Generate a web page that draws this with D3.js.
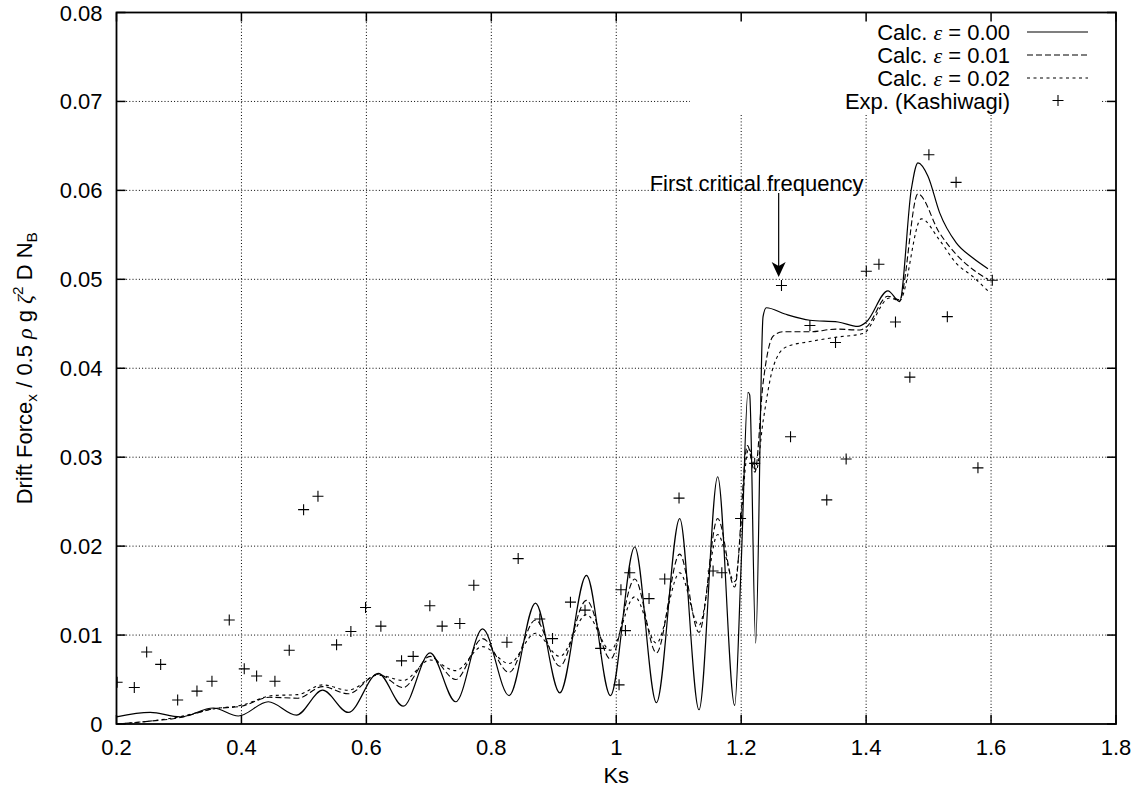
<!DOCTYPE html>
<html>
<head>
<meta charset="utf-8">
<script src="https://cdn.jsdelivr.net/npm/d3@7"></script>
<style>
  body { margin: 0; background: #fff; }
  svg { display: block; }
  text { font-family: "Liberation Sans", Arial, Helvetica, sans-serif; fill: #000; }
</style>
</head>
<body>
<script>
// ---------------- data ----------------
const xTicks = [0.2, 0.4, 0.6, 0.8, 1.0, 1.2, 1.4, 1.6, 1.8];
const yTicks = [0, 0.01, 0.02, 0.03, 0.04, 0.05, 0.06, 0.07, 0.08];
const xTickLabels = ["0.2", "0.4", "0.6", "0.8", "1", "1.2", "1.4", "1.6", "1.8"];
const yTickLabels = ["0", "0.01", "0.02", "0.03", "0.04", "0.05", "0.06", "0.07", "0.08"];

const seriesNames = ["Calc. \u03B5 = 0.00", "Calc. \u03B5 = 0.01", "Calc. \u03B5 = 0.02", "Exp. (Kashiwagi)"];

// Calc. eps = 0.00 (solid)
const ksCalc0 = [0.2, 0.254, 0.302, 0.355, 0.395, 0.443, 0.488, 0.530, 0.571, 0.619, 0.659, 0.702, 0.743, 0.786,
  0.8285, 0.8707, 0.9096, 0.9523, 0.9907, 1.0296, 1.0643, 1.1016, 1.1325, 1.1624, 1.1896, 1.2, 1.2109, 1.2136,
  1.2232, 1.235, 1.2403, 1.27, 1.31, 1.355, 1.387, 1.4003, 1.4349, 1.4536, 1.4723, 1.4829, 1.499, 1.5176, 1.5443, 1.571, 1.595];
const fCalc0 = [0.0008, 0.0013, 0.0008, 0.0018, 0.0009, 0.0025, 0.0010, 0.0038, 0.0013, 0.0057, 0.0020, 0.0080, 0.0025, 0.0107,
  0.0032, 0.0136, 0.0035, 0.0167, 0.0032, 0.0199, 0.0024, 0.0231, 0.0016, 0.0278, 0.0021, 0.0180, 0.0373, 0.0370,
  0.0091, 0.0458, 0.0468, 0.0461, 0.0454, 0.0452, 0.0447, 0.0452, 0.0487, 0.0475, 0.0601, 0.0631, 0.0616, 0.0575, 0.0541, 0.0524, 0.0512];

// Calc. eps = 0.01 (dashed)
const ksCalc1 = [0.2, 0.25, 0.3, 0.355, 0.40, 0.445, 0.49, 0.53, 0.571, 0.619, 0.659, 0.702, 0.743, 0.786,
  0.8285, 0.8707, 0.9096, 0.9523, 0.9907, 1.0296, 1.0643, 1.1016, 1.1325, 1.1624, 1.1896, 1.21, 1.222, 1.235,
  1.251, 1.267, 1.31, 1.352, 1.39, 1.40, 1.4349, 1.4536, 1.4829, 1.5176, 1.5443, 1.571, 1.595];
const fCalc1 = [0.0000, 0.0003, 0.0007, 0.0017, 0.0020, 0.0030, 0.0029, 0.0042, 0.0034, 0.0056, 0.0041, 0.0076, 0.0050, 0.0096,
  0.0058, 0.0117, 0.0065, 0.0139, 0.0073, 0.0163, 0.0080, 0.0191, 0.0103, 0.0231, 0.0154, 0.0313, 0.0283, 0.0383,
  0.0436, 0.0441, 0.0441, 0.0444, 0.0443, 0.0446, 0.0481, 0.0477, 0.0596, 0.0552, 0.0528, 0.0511, 0.0500];

// Calc. eps = 0.02 (short dashed)
const ksCalc2 = [0.2, 0.25, 0.3, 0.355, 0.40, 0.45, 0.49, 0.53, 0.571, 0.619, 0.659, 0.702, 0.743, 0.786,
  0.8285, 0.8707, 0.9096, 0.9523, 0.9907, 1.0296, 1.0643, 1.1016, 1.1325, 1.1624, 1.1896, 1.212, 1.224, 1.235,
  1.2515, 1.272, 1.31, 1.353, 1.395, 1.4376, 1.4536, 1.4883, 1.5176, 1.5443, 1.571, 1.595];
const fCalc2 = [0.0000, 0.0003, 0.0008, 0.0017, 0.0021, 0.0032, 0.0033, 0.0044, 0.0038, 0.0055, 0.0049, 0.0072, 0.0060, 0.0087,
  0.0068, 0.0102, 0.0076, 0.0123, 0.0083, 0.0143, 0.0091, 0.0170, 0.0111, 0.0213, 0.0160, 0.0310, 0.0285, 0.0340,
  0.0402, 0.0424, 0.0430, 0.0435, 0.0439, 0.0479, 0.0476, 0.0568, 0.0544, 0.0518, 0.0503, 0.0487];

// Experiment (Kashiwagi)
const ksExp = [0.201, 0.2285, 0.2483, 0.2707, 0.2979, 0.3288, 0.3528, 0.3805, 0.4045, 0.4243, 0.4536, 0.4765,
  0.4995, 0.5225, 0.5523, 0.5752, 0.5987, 0.6232, 0.6563, 0.6749, 0.7016, 0.7213, 0.7496, 0.772,
  0.825, 0.843, 0.8776, 0.898, 0.9267, 0.950, 0.975, 1.0045, 1.0075, 1.0147, 1.0216, 1.0525, 1.0776, 1.1005,
  1.155, 1.169, 1.199, 1.2216, 1.2645, 1.279, 1.31, 1.337, 1.351, 1.368, 1.4003, 1.4205, 1.447, 1.470,
  1.5005, 1.530, 1.544, 1.579, 1.602];
const fExp = [0.0047, 0.0041, 0.0081, 0.0067, 0.0027, 0.0037, 0.0048, 0.0117, 0.0062, 0.0054, 0.0048, 0.0083,
  0.0241, 0.0256, 0.0089, 0.0104, 0.0131, 0.0110, 0.0071, 0.0076, 0.0133, 0.0110, 0.0113, 0.0156,
  0.0092, 0.0186, 0.0118, 0.0096, 0.0137, 0.0128, 0.0085, 0.0044, 0.0151, 0.0105, 0.0170, 0.0141, 0.0163, 0.0254,
  0.0172, 0.0170, 0.0231, 0.0293, 0.0493, 0.0323, 0.0448, 0.0252, 0.0429, 0.0298, 0.0509, 0.0517, 0.0452, 0.0390,
  0.0640, 0.0458, 0.0609, 0.0288, 0.0499];

// annotation
const annoText = "First critical frequency";
const annoTextKs = 1.396;
const annoTextF = 0.06;
const annoArrowKs = 1.26;

// ---------------- chart ----------------
const W = 1138, H = 795;
const L = 116.5, R = 1116, T = 12.5, B = 724;
const FS = 22;

const svg = d3.select("body").append("svg").attr("width", W).attr("height", H);

const x = d3.scaleLinear().domain([0.2, 1.8]).range([L, R]);
const y = d3.scaleLinear().domain([0, 0.08]).range([B, T]);

// grid
const grid = svg.append("g");
grid.selectAll(".gx").data(xTicks.slice(1, -1)).join("line")
  .attr("x1", d => x(d)).attr("x2", d => x(d)).attr("y1", B).attr("y2", T)
  .attr("stroke", "#000").attr("stroke-width", 1).attr("stroke-dasharray", "1,2.2");
grid.selectAll(".gy").data(yTicks.slice(1, -1)).join("line")
  .attr("y1", d => y(d)).attr("y2", d => y(d)).attr("x1", L).attr("x2", R)
  .attr("stroke", "#000").attr("stroke-width", 1).attr("stroke-dasharray", "1,2.2");

// opaque key box
svg.append("rect").attr("x", 690).attr("y", T).attr("width", 1100 - 690).attr("height", 114 - T).attr("fill", "#fff");

// clip
svg.append("clipPath").attr("id", "clip").append("rect")
  .attr("x", L).attr("y", T).attr("width", R - L).attr("height", B - T);

const line = d3.line().x(d => x(d[0])).y(d => y(d[1])).curve(d3.curveMonotoneX);
const styles = [
  { dash: null, w: 1.2 },
  { dash: "6,3", w: 1.1 },
  { dash: "3,3.5", w: 1.1 }
];
const calcSeries = [
  d3.zip(ksCalc0, fCalc0),
  d3.zip(ksCalc1, fCalc1),
  d3.zip(ksCalc2, fCalc2)
];
const plot = svg.append("g").attr("clip-path", "url(#clip)");
calcSeries.forEach((s, i) => {
  plot.append("path").datum(s).attr("d", line)
    .attr("fill", "none").attr("stroke", "#000")
    .attr("stroke-width", styles[i].w)
    .attr("stroke-dasharray", styles[i].dash);
});

// experimental points
const expData = d3.zip(ksExp, fExp);
const ms = 5.5;
plot.selectAll(".pt").data(expData).join("path")
  .attr("d", d => `M${x(d[0]) - ms},${y(d[1])}H${x(d[0]) + ms}M${x(d[0])},${y(d[1]) - ms}V${y(d[1]) + ms}`)
  .attr("stroke", "#000").attr("stroke-width", 1.1).attr("fill", "none");

// frame
svg.append("rect").attr("x", L).attr("y", T).attr("width", R - L).attr("height", B - T)
  .attr("fill", "none").attr("stroke", "#000").attr("stroke-width", 1.8);

// ticks (mirrored, inward)
const tl = 9;
const ticks = svg.append("g").attr("stroke", "#000").attr("stroke-width", 1.5);
xTicks.forEach(t => {
  ticks.append("line").attr("x1", x(t)).attr("x2", x(t)).attr("y1", B).attr("y2", B - tl);
  ticks.append("line").attr("x1", x(t)).attr("x2", x(t)).attr("y1", T).attr("y2", T + tl);
});
yTicks.forEach(t => {
  ticks.append("line").attr("y1", y(t)).attr("y2", y(t)).attr("x1", L).attr("x2", L + tl);
  ticks.append("line").attr("y1", y(t)).attr("y2", y(t)).attr("x1", R).attr("x2", R - tl);
});

// tick labels
svg.selectAll(".xl").data(xTicks).join("text")
  .attr("x", d => x(d)).attr("y", B + 31)
  .attr("text-anchor", "middle").attr("font-size", FS)
  .text((d, i) => xTickLabels[i]);
svg.selectAll(".yl").data(yTicks).join("text")
  .attr("x", L - 14).attr("y", d => y(d) + 8)
  .attr("text-anchor", "end").attr("font-size", FS)
  .text((d, i) => yTickLabels[i]);

// axis titles
svg.append("text").attr("x", (L + R) / 2).attr("y", 783).attr("text-anchor", "middle")
  .attr("font-size", FS).text("Ks");

const yl = svg.append("text").attr("transform", `translate(32,${(T + B) / 2}) rotate(-90)`)
  .attr("text-anchor", "middle").attr("font-size", FS);
yl.append("tspan").text("Drift Force");
yl.append("tspan").attr("font-size", FS * 0.7).attr("dy", 5).text("x");
yl.append("tspan").attr("dy", -5).text(" / 0.5 ");
yl.append("tspan").attr("font-family", "Liberation Serif").attr("font-style", "italic").text("\u03C1");
yl.append("tspan").text(" g ");
yl.append("tspan").attr("font-family", "Liberation Serif").attr("font-style", "italic").text("\u03B6");
yl.append("tspan").attr("font-size", FS * 0.7).attr("dy", -9).text("2");
yl.append("tspan").attr("dy", 9).text(" D N");
yl.append("tspan").attr("font-size", FS * 0.7).attr("dy", 5).text("B");

// annotation
svg.append("text").attr("x", x(annoTextKs)).attr("y", y(annoTextF) + 0.5).attr("text-anchor", "end")
  .attr("font-size", FS).text(annoText);
const ax = x(annoArrowKs);
svg.append("line").attr("x1", ax).attr("x2", ax).attr("y1", 193).attr("y2", 266)
  .attr("stroke", "#000").attr("stroke-width", 1.2);
svg.append("path").attr("d", `M${ax - 7},${262}L${ax},${277}L${ax + 7},${262}L${ax},${266}Z`).attr("fill", "#000");

// legend
const lg = svg.append("g");
const rowY = [40, 63, 86, 108.5];
seriesNames.forEach((name, i) => {
  const t = lg.append("text").attr("x", 1010).attr("y", rowY[i]).attr("text-anchor", "end").attr("font-size", FS);
  if (i < 3) {
    t.append("tspan").text("Calc. ");
    t.append("tspan").attr("font-family", "Liberation Serif").attr("font-style", "italic").text("\u03B5");
    t.append("tspan").text(name.slice(7));
  } else {
    t.text(name);
  }
  const cy = rowY[i] - 8;
  if (i < 3) {
    lg.append("line").attr("x1", 1027).attr("x2", 1088).attr("y1", cy).attr("y2", cy)
      .attr("stroke", "#000").attr("stroke-width", styles[i].w).attr("stroke-dasharray", styles[i].dash);
  } else {
    const px = 1058;
    lg.append("path").attr("d", `M${px - ms},${cy}H${px + ms}M${px},${cy - ms}V${cy + ms}`)
      .attr("stroke", "#000").attr("stroke-width", 1.1);
  }
});
</script>
</body>
</html>
